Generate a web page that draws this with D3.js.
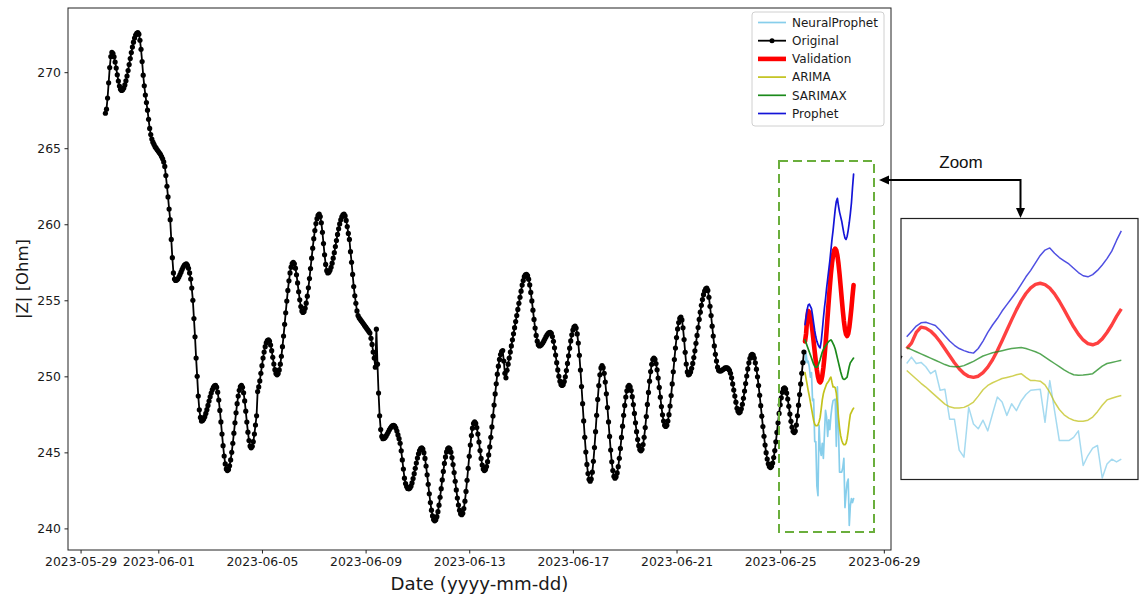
<!DOCTYPE html>
<html>
<head>
<meta charset="utf-8">
<script src="https://cdn.jsdelivr.net/npm/d3@7/dist/d3.min.js"></script>
<style>
  body { margin: 0; background: #fff; }
  svg { font-family: "DejaVu Sans", sans-serif; }
</style>
</head>
<body>
<svg id="chart" width="1140" height="598"></svg>
<script>
// hourly measurements, first one at 2023-05-29 23:00
var originalStart = '2023-05-29 23:00';
var original = [
  267.3, 267.57, 268.3, 269.3, 270.3, 271.03, 271.3, 271.22, 271.01, 270.67, 270.27, 269.83, 269.42, 269.09, 268.87, 268.8,
  268.84, 268.96, 269.16, 269.43, 269.75, 270.11, 270.5, 270.9, 271.29, 271.65, 271.97, 272.24, 272.44, 272.56, 272.6,
  272.5, 272.1, 271.5, 270.7, 269.8, 269.1, 268.5, 268.0, 267.5, 266.9, 266.3, 265.9, 265.6, 265.4, 265.25, 265.1, 265.0,
  264.9, 264.8, 264.7, 264.6, 264.45, 264.3, 264.1, 263.8, 263.2, 262.5, 261.8, 261.0, 260.3, 259.0, 257.8, 256.8, 256.4, 256.3,
  256.33, 256.4, 256.53, 256.68, 256.85, 257.02, 257.17, 257.3, 257.37, 257.4,
  257.3, 257.1, 256.8, 256.4, 255.8, 255.0, 253.8, 252.6, 251.2, 250.0, 248.7, 247.8, 247.3, 247.06,
  247.09, 247.19, 247.35, 247.56, 247.81, 248.09, 248.37, 248.65, 248.9, 249.11, 249.27, 249.37, 249.4,
  249.29, 248.96, 248.44, 247.76, 247.0, 246.2, 245.44, 244.76, 244.24, 243.91, 243.8,
  243.88, 244.12, 244.5, 245.0, 245.6, 246.26, 246.94, 247.6, 248.2, 248.7, 249.08, 249.32, 249.4,
  249.28, 248.92, 248.38, 247.71, 246.99, 246.33, 245.78, 245.42, 245.3,
  245.4, 245.7, 246.2, 246.8, 247.4, 249.0, 249.3, 249.7, 250.2, 250.7, 251.2, 251.6, 251.95, 252.2, 252.35, 252.4,
  252.31, 252.06, 251.69, 251.25, 250.81, 250.44, 250.19, 250.1,
  250.18, 250.42, 250.8, 251.32, 251.95, 252.65, 253.42, 254.18, 254.95, 255.65, 256.28, 256.8, 257.18, 257.42, 257.5,
  257.4, 257.11, 256.68, 256.14, 255.56, 255.03, 254.59, 254.3, 254.2,
  254.27, 254.48, 254.81, 255.27, 255.82, 256.43, 257.09, 257.77, 258.43, 259.05, 259.59, 260.05, 260.37, 260.59, 260.66,
  260.51, 260.1, 259.47, 258.73, 257.99, 257.36, 256.95, 256.8,
  256.84, 256.97, 257.17, 257.44, 257.77, 258.13, 258.53, 258.93, 259.33, 259.7, 260.02, 260.29, 260.49, 260.62, 260.66,
  260.55, 260.25, 259.85, 259.4, 259.0, 258.2, 257.5, 256.7, 255.9, 255.3, 254.8, 254.3, 254.0,
  253.85, 253.75, 253.65, 253.55, 253.45, 253.35, 253.25, 253.15, 253.05, 252.95, 252.85,
  252.5, 252.1, 251.6, 251.2, 250.6, 253.1, 250.8, 248.9, 247.4, 246.5, 246.05, 245.9,
  245.92, 245.98, 246.08, 246.2, 246.34, 246.48, 246.6, 246.7, 246.76, 246.78,
  246.72, 246.6, 246.4, 246.15, 245.9, 245.6, 245.1, 244.5, 243.9, 243.3, 242.95, 242.75, 242.63, 242.6,
  242.65, 242.78, 242.99, 243.28, 243.6, 243.95, 244.3, 244.63, 244.91, 245.12, 245.25, 245.3,
  245.22, 244.98, 244.6, 244.1, 243.52, 242.9, 242.28, 241.7, 241.2, 240.82, 240.58, 240.5,
  240.57, 240.77, 241.1, 241.53, 242.05, 242.61, 243.19, 243.75, 244.27, 244.7, 245.03, 245.23, 245.3,
  245.23, 245.01, 244.66, 244.2, 243.67, 243.1, 242.53, 242.0, 241.54, 241.2, 240.97, 240.9,
  241.0, 241.31, 241.79, 242.43, 243.16, 243.95, 244.74, 245.48, 246.11, 246.59, 246.9, 247.0,
  246.9, 246.63, 246.2, 245.68, 245.12, 244.6, 244.17, 243.9, 243.8,
  243.87, 244.07, 244.39, 244.83, 245.36, 245.99, 246.67, 247.39, 248.11, 248.84, 249.51, 250.14, 250.67, 251.11, 251.43, 251.63, 251.7,
  251.0, 250.2, 249.9,
  250.4, 250.8, 251.2, 251.6, 252.0, 252.4, 252.8, 253.2, 253.6, 254.0, 254.4, 254.8, 255.2, 255.6, 256.0, 256.3, 256.55, 256.68, 256.7,
  256.62, 256.39, 256.01, 255.52, 254.96, 254.35, 253.74, 253.17, 252.69, 252.31, 252.08, 252.0,
  252.02, 252.09, 252.19, 252.31, 252.45, 252.59, 252.71, 252.81, 252.88, 252.9,
  252.83, 252.62, 252.3, 251.88, 251.4, 250.9, 250.42, 250.0, 249.68, 249.47, 249.4,
  249.47, 249.66, 249.97, 250.38, 250.85, 251.35, 251.85, 252.33, 252.73, 253.04, 253.23, 253.3,
  253.17, 252.79, 252.19, 251.38, 250.41, 249.33, 248.2, 247.07, 245.99, 245.02, 244.21, 243.61, 243.23, 243.1,
  243.25, 243.7, 244.41, 245.32, 246.36, 247.44, 248.48, 249.39, 250.1, 250.55, 250.7,
  250.57, 250.2, 249.62, 248.85, 247.95, 247.0, 246.05, 245.15, 244.38, 243.8, 243.43, 243.3,
  243.39, 243.65, 244.06, 244.61, 245.26, 245.98, 246.72, 247.44, 248.09, 248.64, 249.05, 249.31, 249.4,
  249.31, 249.06, 248.66, 248.14, 247.56, 246.94, 246.36, 245.84, 245.44, 245.19, 245.1,
  245.2, 245.51, 245.99, 246.63, 247.36, 248.15, 248.94, 249.68, 250.31, 250.79, 251.1, 251.2,
  251.11, 250.84, 250.43, 249.89, 249.27, 248.63, 248.01, 247.47, 247.06, 246.79, 246.7,
  246.79, 247.06, 247.48, 248.05, 248.74, 249.5, 250.3, 251.1, 251.86, 252.55, 253.12, 253.54, 253.81, 253.9,
  253.71, 253.19, 252.42, 251.58, 250.81, 250.29, 250.1,
  250.15, 250.29, 250.53, 250.85, 251.23, 251.68, 252.17, 252.69, 253.21, 253.74, 254.22, 254.67, 255.05, 255.37, 255.61, 255.75, 255.8,
  255.65, 255.2, 254.6, 254.0, 253.3, 252.65, 252.0, 251.45, 251.0, 250.6, 250.4, 250.35, 250.35, 250.4, 250.45, 250.5, 250.55, 250.55,
  250.55, 250.5, 250.4, 250.2, 249.9, 249.5, 249.1, 248.7, 248.3, 247.9, 247.7, 247.6,
  247.67, 247.86, 248.16, 248.56, 249.03, 249.53, 250.02, 250.49, 250.89, 251.19, 251.38, 251.45,
  251.39, 251.2, 250.89, 250.47, 249.97, 249.39, 248.75, 248.07, 247.38, 246.7, 246.06, 245.48, 244.98, 244.56, 244.25, 244.07, 244.0,
  244.08, 244.3, 244.66, 245.12, 245.69, 246.31, 246.94, 247.56, 248.13, 248.59, 248.95, 249.17, 249.25,
  249.16, 248.9, 248.51, 248.03, 247.52, 247.04, 246.65, 246.39, 246.3,
  246.4, 246.8, 247.4, 248.1, 248.8, 249.5, 250.2, 250.9, 251.6
];

// forecasts, hourly from 2023-06-25 23:00
var forecastStart = '2023-06-25 23:00';
var neuralProphet = [
  250.9, 251.5, 250.9, 251.0, 250.6, 249.95, 250.25, 248.4, 248.5, 245.7, 245.7, 242.8, 242.15, 246.8, 245.25, 244.8,
  245.6, 244.6, 246.2, 247.76, 247.3, 246.05, 247.14, 246.5, 247.4, 248.0, 248.4, 248.45, 248.5, 245.4, 249.3, 246.5,
  243.7, 243.7, 243.7, 244.0, 244.6, 241.37, 242.3, 243.0, 243.24, 240.2, 241.5, 241.96, 241.7, 241.96
];
var validation = [
  252.3, 252.8, 253.8, 254.3, 254.21, 253.93, 253.49, 252.93, 252.28, 251.62, 250.97, 250.41, 249.97, 249.69, 249.6,
  249.71, 250.04, 250.56, 251.25, 252.09, 253.02, 254.0, 254.98, 255.91, 256.75, 257.44, 257.96, 258.29, 258.4,
  258.28, 257.95, 257.41, 256.72, 255.93, 255.12, 254.33, 253.64, 253.1, 252.76, 252.65,
  252.8, 253.2, 253.8, 254.5, 255.3, 256.0
];
var arima = [
  250.25, 249.85, 249.45, 249.05, 248.7, 248.3, 247.9, 247.5, 247.1, 246.85,
  246.75, 246.75, 246.8, 247.0, 247.3, 247.85, 248.45, 248.85, 249.1, 249.3,
  249.5, 249.6, 249.7, 249.85, 249.95, 249.6, 249.3, 249.3, 249.25, 248.9,
  248.2, 247.3, 246.6, 246.1, 245.8, 245.6, 245.5, 245.5, 245.6, 245.9,
  246.4, 247.0, 247.5, 247.65, 247.8, 247.9
];
var sarimax = [
  252.4, 252.2, 252.0, 251.8, 251.6, 251.4, 251.2, 251.0, 250.8, 250.65,
  250.6, 250.6, 250.7, 250.9, 251.1, 251.35, 251.6, 251.75, 251.9, 252.0,
  252.1, 252.2, 252.3, 252.35, 252.4, 252.3, 252.15, 252.0, 251.8, 251.5,
  251.2, 250.9, 250.6, 250.3, 250.05, 249.85, 249.8, 249.82, 249.88, 249.95,
  250.3, 250.65, 250.9, 251.0, 251.1, 251.2
];
var prophet = [
  253.4, 253.9, 254.4, 254.7, 254.75, 254.6, 254.45, 254.0, 253.5, 253.0,
  252.6, 252.3, 252.1, 251.95, 251.87, 252.3, 253.0, 253.8, 254.5, 255.1,
  255.8, 256.4, 257.0, 257.6, 258.3, 259.0, 259.6, 260.3, 261.0, 261.5,
  261.7, 261.2, 260.8, 260.5, 260.2, 259.8, 259.4, 259.1, 259.0, 259.2,
  259.6, 260.1, 260.7, 261.4, 262.4, 263.3
];

var xTickLabels = ['2023-05-29', '2023-06-01', '2023-06-05', '2023-06-09', '2023-06-13',
                   '2023-06-17', '2023-06-21', '2023-06-25', '2023-06-29'];
var yTickValues = [240, 245, 250, 255, 260, 265, 270];

var parseHour = d3.timeParse('%Y-%m-%d %H:%M'),
    parseDay = d3.timeParse('%Y-%m-%d');

function toPoints (start, vals) {
    var t0 = parseHour (start);
    return vals.map (function (v, i) {
        return { date: d3.timeHour.offset (t0, i), value: v };
    });
}

var origPts = toPoints (originalStart, original);
var series = [
    { name: 'NeuralProphet', color: '#87ceeb', width: 1.7, pts: toPoints (forecastStart, neuralProphet) },
    { name: 'Original', color: '#000', width: 1.8, pts: origPts, marker: true },
    { name: 'Validation', color: '#ff0000', width: 4.6, pts: toPoints (forecastStart, validation) },
    { name: 'ARIMA', color: '#c2c21c', width: 1.7, pts: toPoints (forecastStart, arima) },
    { name: 'SARIMAX', color: '#1c8a1c', width: 1.7, pts: toPoints (forecastStart, sarimax) },
    { name: 'Prophet', color: '#1414d8', width: 1.7, pts: toPoints (forecastStart, prophet) }
];

var svg = d3.select ('#chart');
var plot = { left: 68, top: 8, right: 891, bottom: 550 };

// matplotlib style 5% margins around the data
var allPts = [].concat.apply ([], series.map (function (s) { return s.pts; }));
var tExt = d3.extent (allPts, function (d) { return d.date; }),
    vExt = d3.extent (allPts, function (d) { return d.value; });
var tPad = (tExt[1] - tExt[0]) * 0.05,
    vPad = (vExt[1] - vExt[0]) * 0.05;

var x = d3.scaleTime ()
    .domain ([new Date (+tExt[0] - tPad), new Date (+tExt[1] + tPad)])
    .range ([plot.left, plot.right]);
var y = d3.scaleLinear ()
    .domain ([vExt[0] - vPad, vExt[1] + vPad])
    .range ([plot.bottom, plot.top]);

svg.append ('defs').append ('clipPath').attr ('id', 'plotClip')
    .append ('rect')
    .attr ('x', plot.left).attr ('y', plot.top)
    .attr ('width', plot.right - plot.left).attr ('height', plot.bottom - plot.top);

// axes
var xAxis = d3.axisBottom (x)
    .tickValues (xTickLabels.map (parseDay))
    .tickFormat (d3.timeFormat ('%Y-%m-%d'))
    .tickSize (3.5).tickPadding (3.5);
var yAxis = d3.axisLeft (y)
    .tickValues (yTickValues)
    .tickFormat (d3.format ('d'))
    .tickSize (3.5).tickPadding (3.5);

var gx = svg.append ('g')
    .attr ('transform', 'translate(0,' + plot.bottom + ')')
    .call (xAxis);
var gy = svg.append ('g')
    .attr ('transform', 'translate(' + plot.left + ',0)')
    .call (yAxis);
[gx, gy].forEach (function (g) {
    g.select ('.domain').remove ();
    g.selectAll ('text').attr ('font-size', '12.4px').attr ('fill', '#1a1a1a')
        .attr ('font-family', '"DejaVu Sans", sans-serif');
    g.selectAll ('line').attr ('stroke', '#222').attr ('stroke-width', 1);
});

var line = d3.line ()
    .x (function (d) { return x (d.date); })
    .y (function (d) { return y (d.value); });

var lines = svg.append ('g').attr ('clip-path', 'url(#plotClip)');
series.forEach (function (s) {
    lines.append ('path')
        .datum (s.pts)
        .attr ('d', line)
        .attr ('fill', 'none')
        .attr ('stroke', s.color)
        .attr ('stroke-width', s.width)
        .attr ('stroke-linejoin', 'round')
        .attr ('stroke-linecap', 'round');
    if (s.marker) {
        lines.selectAll ('.dot')
            .data (s.pts)
            .enter ().append ('circle')
            .attr ('class', 'dot')
            .attr ('cx', function (d) { return x (d.date); })
            .attr ('cy', function (d) { return y (d.value); })
            .attr ('r', 2.6)
            .attr ('fill', s.color);
    }
});

// frame
svg.append ('rect')
    .attr ('x', plot.left).attr ('y', plot.top)
    .attr ('width', plot.right - plot.left).attr ('height', plot.bottom - plot.top)
    .attr ('fill', 'none').attr ('stroke', '#222').attr ('stroke-width', 1);

// axis titles
svg.append ('text')
    .attr ('x', (plot.left + plot.right) / 2).attr ('y', 590)
    .attr ('text-anchor', 'middle')
    .attr ('font-size', '18.2px').attr ('fill', '#1a1a1a')
    .text ('Date (yyyy-mm-dd)');
svg.append ('text')
    .attr ('transform', 'translate(28,' + (plot.top + plot.bottom) / 2 + ') rotate(-90)')
    .attr ('text-anchor', 'middle')
    .attr ('font-size', '16.5px').attr ('fill', '#1a1a1a')
    .text ('|Z| [Ohm]');

// legend
var legend = svg.append ('g').attr ('transform', 'translate(752,12)');
legend.append ('rect')
    .attr ('width', 132).attr ('height', 114).attr ('rx', 3)
    .attr ('fill', '#fff').attr ('fill-opacity', 0.85)
    .attr ('stroke', '#d0d0d0').attr ('stroke-width', 1);
var items = legend.selectAll ('.item')
    .data (series)
    .enter ().append ('g')
    .attr ('class', 'item')
    .attr ('transform', function (d, i) { return 'translate(0,' + (10.5 + i * 18.2) + ')'; });
items.append ('line')
    .attr ('x1', 6).attr ('x2', 34)
    .attr ('stroke', function (d) { return d.color; })
    .attr ('stroke-width', function (d) { return d.width; });
items.filter (function (d) { return d.marker; })
    .append ('circle').attr ('cx', 20).attr ('r', 2.5).attr ('fill', '#000');
items.append ('text')
    .attr ('x', 40).attr ('dy', '0.35em')
    .attr ('font-size', '12px').attr ('fill', '#1a1a1a')
    .text (function (d) { return d.name; });

// dashed zoom region
svg.append ('rect')
    .attr ('x', 779).attr ('y', 161)
    .attr ('width', 95).attr ('height', 371)
    .attr ('fill', 'none').attr ('stroke', '#6aae3c')
    .attr ('stroke-width', 2).attr ('stroke-dasharray', '9,5');

// arrow + label
svg.append ('path')
    .attr ('d', 'M1020.5,210 V180 H887')
    .attr ('fill', 'none').attr ('stroke', '#000').attr ('stroke-width', 2);
svg.append ('path').attr ('d', 'M879,180 L889,175.5 L889,184.5 Z').attr ('fill', '#000');
svg.append ('path').attr ('d', 'M1020.5,218 L1016,208 L1025,208 Z').attr ('fill', '#000');
svg.append ('text')
    .attr ('x', 961).attr ('y', 168)
    .attr ('text-anchor', 'middle')
    .attr ('font-family', '"Liberation Sans", Arial, sans-serif')
    .attr ('font-size', '17px').attr ('fill', '#111')
    .text ('Zoom');

// zoom panel: same data, enlarged
var panel = { left: 901, top: 218.5, right: 1138, bottom: 479.5 };
var px = d3.scaleTime ()
    .domain ([parseHour ('2023-06-25 21:48'), parseHour ('2023-06-27 23:30')])
    .range ([panel.left, panel.right]);
var py = d3.scaleLinear ()
    .domain ([240.06, 264.45])
    .range ([panel.bottom, panel.top]);
svg.select ('defs').append ('clipPath').attr ('id', 'panelClip')
    .append ('rect')
    .attr ('x', panel.left).attr ('y', panel.top)
    .attr ('width', panel.right - panel.left).attr ('height', panel.bottom - panel.top);
svg.append ('rect')
    .attr ('x', panel.left).attr ('y', panel.top)
    .attr ('width', panel.right - panel.left).attr ('height', panel.bottom - panel.top)
    .attr ('fill', '#fff');
var pline = d3.line ()
    .x (function (d) { return px (d.date); })
    .y (function (d) { return py (d.value); });
var pg = svg.append ('g').attr ('clip-path', 'url(#panelClip)');
series.forEach (function (s) {
    pg.append ('path')
        .datum (s.pts.slice (-50))
        .attr ('d', pline)
        .attr ('fill', 'none')
        .attr ('stroke', s.color)
        .attr ('stroke-opacity', s.name === 'Original' ? 1 : 0.75)
        .attr ('stroke-width', s.name === 'Validation' ? 3.4 : 1.5)
        .attr ('stroke-linejoin', 'round');
});
svg.append ('rect')
    .attr ('x', panel.left).attr ('y', panel.top)
    .attr ('width', panel.right - panel.left).attr ('height', panel.bottom - panel.top)
    .attr ('fill', 'none').attr ('stroke', '#222').attr ('stroke-width', 1.2);
</script>
</body>
</html>
